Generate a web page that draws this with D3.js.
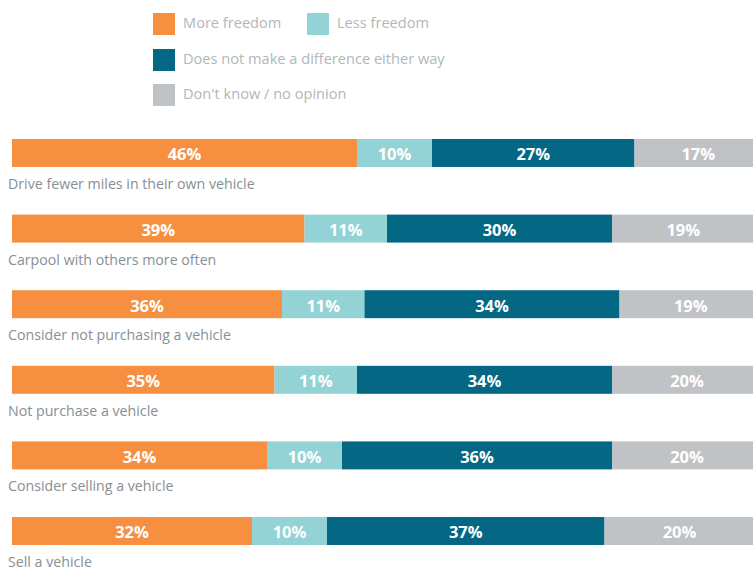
<!DOCTYPE html>
<html>
<head>
<meta charset="utf-8">
<script src="https://cdnjs.cloudflare.com/ajax/libs/d3/7.8.5/d3.min.js"></script>
<style>
  body { margin: 0; background: #fff; }
  svg { display: block; font-family: 'Open Sans', sans-serif; }
</style>
</head>
<body>
<script>
  // data
  var actions = [
    "Drive fewer miles in their own vehicle",
    "Carpool with others more often",
    "Consider not purchasing a vehicle",
    "Not purchase a vehicle",
    "Consider selling a vehicle",
    "Sell a vehicle"
  ];
  var responses = ["More freedom", "Less freedom", "Does not make a difference either way", "Don't know / no opinion"];
  var moreFreedom = [46, 39, 36, 35, 34, 32];
  var lessFreedom = [10, 11, 11, 11, 10, 10];
  var noDifference = [27, 30, 34, 34, 36, 37];
  var dontKnow = [17, 19, 19, 20, 20, 20];
  var colors = ["#f78f41", "#93d3d6", "#046783", "#bfc3c6"];

  var width = 753, height = 570;
  var svg = d3.select("body").append("svg")
    .attr("width", width)
    .attr("height", height);

  var rows = actions.map(function (a, i) {
    return { action: a, r0: moreFreedom[i], r1: lessFreedom[i], r2: noDifference[i], r3: dontKnow[i] };
  });
  var keys = ["r0", "r1", "r2", "r3"];
  var series = d3.stack().keys(keys)(rows);

  var x = d3.scaleLinear().domain([0, 100]).range([12, 762]);
  var y = d3.scaleBand().domain(actions).range([139, 545]).paddingInner(0.63).paddingOuter(0);
  var barH = y.bandwidth();

  var color = d3.scaleOrdinal().domain(keys).range(colors);

  var groups = svg.selectAll(".series")
    .data(series)
    .enter().append("g")
    .attr("class", "series")
    .attr("fill", function (d) { return color(d.key); });

  groups.selectAll("rect")
    .data(function (d) { return d; })
    .enter().append("rect")
    .attr("x", function (d) { return x(d[0]); })
    .attr("width", function (d) { return x(d[1]) - x(d[0]); })
    .attr("y", function (d) { return y(d.data.action); })
    .attr("height", barH);

  groups.selectAll("text")
    .data(function (d) { return d; })
    .enter().append("text")
    .attr("x", function (d) { return (x(d[0]) + x(d[1])) / 2; })
    .attr("y", function (d) { return y(d.data.action) + barH / 2 + 3; })
    .attr("text-anchor", "middle")
    .attr("dominant-baseline", "middle")
    .attr("fill", "#fff")
    .attr("font-weight", "bold")
    .attr("font-size", 16.5)
    .text(function (d) { return (d[1] - d[0]) + "%"; });

  // category labels under each bar
  svg.selectAll(".label")
    .data(actions)
    .enter().append("text")
    .attr("class", "label")
    .attr("x", 8)
    .attr("y", function (d) { return y(d) + barH + 22; })
    .attr("fill", "#878f95")
    .attr("font-size", 14.2)
    .text(function (d) { return d; });

  /* legend */
  var legendPos = [[153, 13], [307, 13], [153, 49], [153, 84]];
  var legend = svg.selectAll(".legend")
    .data(responses)
    .enter().append("g")
    .attr("class", "legend")
    .attr("transform", function (d, i) { return "translate(" + legendPos[i][0] + "," + legendPos[i][1] + ")"; });

  legend.append("rect")
    .attr("width", 22)
    .attr("height", 22)
    .attr("fill", function (d, i) { return colors[i]; });

  legend.append("text")
    .attr("x", 30)
    .attr("y", 11)
    .attr("dominant-baseline", "middle")
    .attr("fill", "#b1b7bb")
    .attr("font-size", 14.6)
    .text(function (d) { return d; });
</script>
</body>
</html>
